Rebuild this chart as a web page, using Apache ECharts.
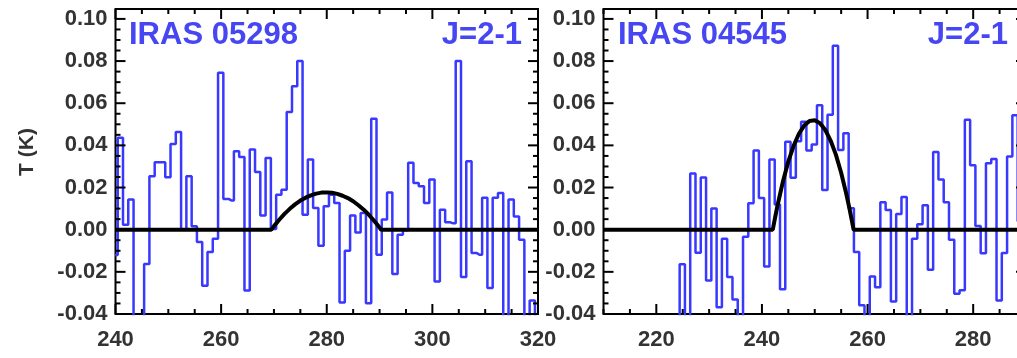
<!DOCTYPE html>
<html>
<head>
<meta charset="utf-8">
<script src="https://cdn.jsdelivr.net/npm/echarts@6/dist/echarts.min.js"></script>
<style>
    html, body {margin: 0; padding: 0; background: #fff;}
    #chart {width: 1017px; height: 358px;}
</style>
</head>
<body>
<div id="chart"></div>
<script>
// channel grid (km/s): centre of first channel, 1 km/s channels
const chanWidth = 1
const leftV0 = 239.92
const rightV0 = 223.92

// IRAS 05298, J=2-1 spectrum (K), one value per channel
const leftT = [
    -0.012, 0.0436, 0.0024, 0.0143, -0.05, -0.05, -0.0163, 0.0254, 0.032, 0.032,
    0.0249, 0.0407, 0.0463, 0.0, 0.0254, 0.0016, -0.0059, -0.0266, -0.0106, -0.0043,
    0.0745, 0.0146, 0.0139, 0.0372, 0.0345, -0.0288, 0.038, 0.0274, 0.0067, 0.034,
    0.0003, 0.0166, 0.019, 0.0558, 0.0681, 0.080, 0.0071, 0.0333, 0.0103, -0.0076,
    0.0111, 0.0166, 0.0127, -0.0345, -0.010, 0.0067, -0.0013, 0.0079, -0.0349, 0.0526,
    -0.0119, 0.0048, 0.0177, -0.021, -0.0024, -0.0003, 0.0317, 0.0222, 0.0206, 0.0127,
    0.0238, -0.0246, 0.0095, 0.0035, 0.003, 0.080, -0.0225, 0.0325, -0.0111, -0.0119,
    0.0151, -0.0277, 0.0151, 0.0174, -0.05, 0.0143, 0.0063, -0.0048, -0.05, -0.0336,
    -0.05,
]

// IRAS 04545, J=2-1 spectrum (K)
const rightT = [
    -0.05, -0.0164, -0.05, 0.0266, -0.0109, 0.0247, -0.0241, 0.0101, -0.0368, -0.0043,
    -0.0225, -0.0331, -0.05, -0.0033, 0.0125, 0.0376, 0.015, -0.0175, 0.0333, 0.012,
    -0.0283, 0.0417, 0.0246, 0.042, 0.0512, 0.0376, 0.0404, 0.059, 0.0188, 0.0545,
    0.0873, 0.0378, 0.0458, 0.0102, -0.0106, -0.0358, -0.05, -0.0222, -0.0273, 0.013,
    0.0093, -0.0341, 0.0075, 0.0155, -0.05, -0.0043, 0.0026, 0.0116, -0.019, 0.0369,
    0.0238, 0.013, -0.0048, -0.0304, -0.0287, 0.0521, 0.0306, 0.0018, -0.0112, 0.0315,
    0.0335, -0.0336, -0.0111, 0.0347, 0.0543, 0.004,
]

// fitted profiles, points
const leftFitV = [240, 269.5, 270, 271, 272, 273, 274, 275, 276, 277, 278, 279, 280,
    281, 282, 283, 284, 285, 286, 287, 288, 289, 290, 290.3, 320]
const leftFitT = [0, 0, 0.0017, 0.0047, 0.0075, 0.0099, 0.0120, 0.0138, 0.0152, 0.0163, 0.0171, 0.0176, 0.0177,
    0.0175, 0.0170, 0.0161, 0.0150, 0.0135, 0.0116, 0.0095, 0.0070, 0.0041, 0.0010, 0, 0]
const rightFitV = [210, 242.05, 242.5, 243, 244, 245, 246, 247, 248, 249, 250, 251, 252,
    253, 254, 255, 256, 256.5, 257, 257.35, 290]
const rightFitT = [0, 0, 0.0059, 0.0121, 0.0231, 0.0324, 0.0398, 0.0455, 0.0494, 0.0516, 0.0519, 0.0505, 0.0473,
    0.0423, 0.0356, 0.0270, 0.0167, 0.0109, 0.0046, 0, 0]

// axes
const xRanges = [[240, 320], [210, 290]]
const leftXTicks = [240, 260, 280, 300, 320]
const rightXTicks = [220, 240, 260, 280]
const yTicks = [-0.04, -0.02, 0.00, 0.02, 0.04, 0.06, 0.08, 0.10]
const yMin = -0.04
const yMax = 0.1047

const labels = ['IRAS 05298', 'IRAS 04545']
const lineLabel = 'J=2-1'
const yTitle = 'T (K)'

const steps = (a, b, d) => {
    const out = []
    for (let v = a; v <= b + 1e-9; v += d) out.push(Math.round(v * 10000) / 10000)
    return out
}

const labelFont = {fontSize: 22, fontWeight: 'bold', fontFamily: 'Liberation Sans', color: '#333'}

const xAxis = xRanges.map(([min, max], i) => ({
    type: 'value', gridIndex: i, min, max, position: 'bottom',
    axisLine: {show: false, onZero: false},
    axisTick: {show: false},
    splitLine: {show: false},
    axisLabel: {...labelFont, margin: 15, customValues: i === 0 ? leftXTicks : rightXTicks},
}))
const yAxis = xRanges.map((r, i) => ({
    type: 'value', gridIndex: i, min: yMin, max: yMax, position: 'left',
    axisLine: {show: false, onZero: false},
    axisTick: {show: false},
    splitLine: {show: false},
    axisLabel: {...labelFont, margin: 8, customValues: yTicks, formatter: (v) => Number(v).toFixed(2)},
}))

// inward tick marks on all four sides, placed through the axis scales
const tickMarks = (grid, dim, major, minor) => ({
    type: 'custom',
    xAxisIndex: grid,
    yAxisIndex: grid,
    silent: true,
    clip: false,
    z: 10,
    data: minor.map((v) => [v, major.some((m) => Math.abs(m - v) < 1e-6) ? 1 : 0]),
    renderItem: (params, api) => {
        const cs = params.coordSys
        const v = api.value(0)
        const isMajor = api.value(1) === 1
        const len = isMajor ? 10 : 5
        const style = {stroke: '#000', lineWidth: 2, fill: null}
        if (dim === 'x') {
            const x = api.coord([v, yMin])[0]
            const b = cs.y + cs.height
            return {type: 'group', children: [
                {type: 'line', shape: {x1: x, y1: b, x2: x, y2: b - len}, style},
                {type: 'line', shape: {x1: x, y1: cs.y, x2: x, y2: cs.y + len}, style},
            ]}
        }
        const y = api.coord([xRanges[grid][0], v])[1]
        const r = cs.x + cs.width
        return {type: 'group', children: [
            {type: 'line', shape: {x1: cs.x, y1: y, x2: cs.x + len, y2: y}, style},
            {type: 'line', shape: {x1: r, y1: y, x2: r - len, y2: y}, style},
        ]}
    },
})

const spectrum = (axis, v0, t) => ({
    type: 'line',
    xAxisIndex: axis,
    yAxisIndex: axis,
    data: t.map((y, i) => [v0 + i * chanWidth, y]),
    step: 'middle',
    symbol: 'none',
    lineStyle: {color: '#3838ff', width: 2.5},
    z: 3,
})

const fit = (axis, v, t) => ({
    type: 'line',
    xAxisIndex: axis,
    yAxisIndex: axis,
    data: v.map((x, i) => [x, t[i]]),
    symbol: 'none',
    lineStyle: {color: '#000', width: 4},
    z: 4,
})

const textStyle = {fontSize: 31, fontWeight: 'bold', fontFamily: 'Liberation Sans', fill: '#4646f2', verticalAlign: 'middle'}
const box = {show: true, borderColor: '#000', borderWidth: 2, backgroundColor: 'transparent', outerBoundsMode: 'none'}

const chart = echarts.init(document.getElementById('chart'))
chart.setOption({
    animation: false,
    grid: [
        {...box, left: 115.5, top: 9, width: 422.5, height: 305},
        {...box, left: 603.5, top: 9, width: 422.5, height: 305},
    ],
    xAxis,
    yAxis,
    series: [
        spectrum(0, leftV0, leftT),
        fit(0, leftFitV, leftFitT),
        spectrum(1, rightV0, rightT),
        fit(1, rightFitV, rightFitT),
        tickMarks(0, 'x', leftXTicks, steps(240, 320, 5)),
        tickMarks(0, 'y', yTicks, steps(-0.04, 0.10, 0.005)),
        tickMarks(1, 'x', rightXTicks, steps(210, 290, 5)),
        tickMarks(1, 'y', yTicks, steps(-0.04, 0.10, 0.005)),
    ],
    graphic: [
        {type: 'text', x: 129, y: 35.5, style: {...textStyle, text: labels[0], align: 'left'}},
        {type: 'text', x: 522, y: 35.5, style: {...textStyle, text: lineLabel, align: 'right'}},
        {type: 'text', x: 618, y: 35.5, style: {...textStyle, text: labels[1], align: 'left'}},
        {type: 'text', x: 1008, y: 35.5, style: {...textStyle, text: lineLabel, align: 'right'}},
        {
            type: 'text', x: 27, y: 152, rotation: Math.PI / 2,
            style: {
                text: yTitle, fontSize: 21, fontWeight: 'bold', fontFamily: 'Liberation Sans',
                fill: '#333', align: 'center', verticalAlign: 'middle',
            },
        },
    ],
})
</script>
</body>
</html>
